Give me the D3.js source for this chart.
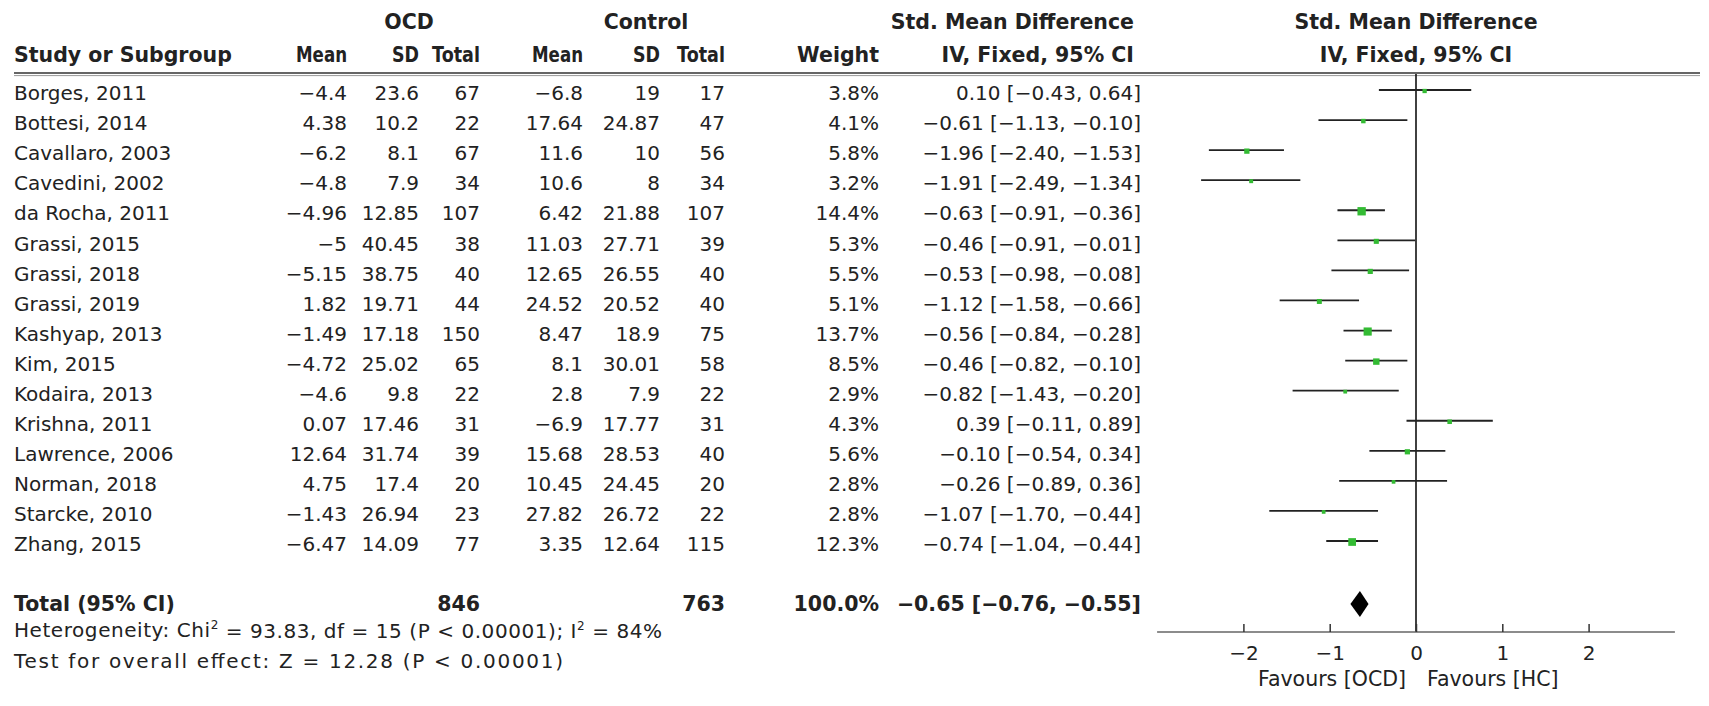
<!DOCTYPE html>
<html><head><meta charset="utf-8">
<script src="https://cdn.jsdelivr.net/npm/d3@7"></script>
<style>
body{margin:0;background:#fff}
svg{display:block}
text{font-family:"DejaVu Sans",Verdana,sans-serif;fill:#222}
</style>
</head><body>
<svg id="c" width="1709" height="706"></svg>
<script>
const studies = ["Borges, 2011","Bottesi, 2014","Cavallaro, 2003","Cavedini, 2002","da Rocha, 2011","Grassi, 2015","Grassi, 2018","Grassi, 2019","Kashyap, 2013","Kim, 2015","Kodaira, 2013","Krishna, 2011","Lawrence, 2006","Norman, 2018","Starcke, 2010","Zhang, 2015"];
const ocdMean = [-4.4, 4.38, -6.2, -4.8, -4.96, -5, -5.15, 1.82, -1.49, -4.72, -4.6, 0.07, 12.64, 4.75, -1.43, -6.47];
const ocdSD = [23.6, 10.2, 8.1, 7.9, 12.85, 40.45, 38.75, 19.71, 17.18, 25.02, 9.8, 17.46, 31.74, 17.4, 26.94, 14.09];
const ocdTotal = [67, 22, 67, 34, 107, 38, 40, 44, 150, 65, 22, 31, 39, 20, 23, 77];
const ctrlMean = [-6.8, 17.64, 11.6, 10.6, 6.42, 11.03, 12.65, 24.52, 8.47, 8.1, 2.8, -6.9, 15.68, 10.45, 27.82, 3.35];
const ctrlSD = [19, 24.87, 10, 8, 21.88, 27.71, 26.55, 20.52, 18.9, 30.01, 7.9, 17.77, 28.53, 24.45, 26.72, 12.64];
const ctrlTotal = [17, 47, 56, 34, 107, 39, 40, 40, 75, 58, 22, 31, 40, 20, 22, 115];
const weight = [3.8, 4.1, 5.8, 3.2, 14.4, 5.3, 5.5, 5.1, 13.7, 8.5, 2.9, 4.3, 5.6, 2.8, 2.8, 12.3];
const smd = [0.10, -0.61, -1.96, -1.91, -0.63, -0.46, -0.53, -1.12, -0.56, -0.46, -0.82, 0.39, -0.10, -0.26, -1.07, -0.74];
const ciLow = [-0.43, -1.13, -2.40, -2.49, -0.91, -0.91, -0.98, -1.58, -0.84, -0.82, -1.43, -0.11, -0.54, -0.89, -1.70, -1.04];
const ciHigh = [0.64, -0.10, -1.53, -1.34, -0.36, -0.01, -0.08, -0.66, -0.28, -0.10, -0.20, 0.89, 0.34, 0.36, -0.44, -0.44];
const totalOcdN = 846, totalCtrlN = 763, totalWeight = 100.0;
const totalSmd = -0.65, totalLow = -0.76, totalHigh = -0.55;
const axisTicks = [-2, -1, 0, 1, 2];
const axisExtent = [-3, 3];
const heterogeneity = {chi2: "93.83", df: 15, p: "0.00001", i2: "84%"};
const overallTest = {z: "12.28", p: "0.00001"};

const svg = d3.select("#c");
const dash = s => String(s).replace(/[-\u2212]/g, "\u2212");
const f2 = v => dash(d3.format(".2f")(v));
const f1 = v => d3.format(".1f")(v) + "%";

// layout
const leftX = 14;
const colRight = {om: 347, osd: 419, on: 480, cm: 583, csd: 660, cn: 725, w: 879, ci: 1141};
const rowY = d3.scaleLinear().domain([0, studies.length - 1]).range([90, 541]);
const textOff = 3;
const totalY = 604, hetY = 630, testY = 661;
const axisY = 632, lineTop = 74;
const x = d3.scaleLinear().domain([-2, 2]).range([1416 - 2*86.3, 1416 + 2*86.3]);

// headers
const hdr = svg.append("g").attr("font-weight", "bold").attr("font-size", 20.5);
hdr.append("text").attr("x", 409).attr("y", 22).attr("dy", "0.36em").attr("text-anchor", "middle").text("OCD");
hdr.append("text").attr("x", 646).attr("y", 22).attr("dy", "0.36em").attr("text-anchor", "middle").text("Control");
hdr.append("text").attr("x", 1134).attr("y", 22).attr("dy", "0.36em").attr("text-anchor", "end").text("Std. Mean Difference");
hdr.append("text").attr("x", x(0)).attr("y", 22).attr("dy", "0.36em").attr("text-anchor", "middle").text("Std. Mean Difference");
// [label, x, anchor, forced width or null]
const h2 = [["Study or Subgroup", leftX, "start", null], ["Mean", colRight.om, "end", 51], ["SD", colRight.osd, "end", 27], ["Total", colRight.on, "end", 48],
  ["Mean", colRight.cm, "end", 51], ["SD", colRight.csd, "end", 27], ["Total", colRight.cn, "end", 48], ["Weight", colRight.w, "end", null],
  ["IV, Fixed, 95% CI", 1134, "end", null], ["IV, Fixed, 95% CI", x(0), "middle", null]];
hdr.selectAll("text.h2").data(h2).join("text").attr("class", "h2")
  .attr("x", d => d[1]).attr("y", 55).attr("dy", "0.36em").attr("text-anchor", d => d[2])
  .each(function(d){ if (d[3]) d3.select(this).attr("textLength", d[3]).attr("lengthAdjust", "spacingAndGlyphs"); })
  .text(d => d[0]);

// header double rule
svg.append("line").attr("x1", 14).attr("x2", 1700).attr("y1", lineTop - 1).attr("y2", lineTop - 1).attr("stroke", "#333").attr("stroke-width", 1.6);
svg.append("line").attr("x1", 14).attr("x2", 1700).attr("y1", lineTop + 1.6).attr("y2", lineTop + 1.6).attr("stroke", "#999").attr("stroke-width", 1);

// data rows
const rows = svg.append("g").attr("font-size", 20);
const idx = d3.range(studies.length);
const cols = [
  [i => studies[i], leftX, "start"],
  [i => dash(ocdMean[i]), colRight.om, "end"],
  [i => ocdSD[i], colRight.osd, "end"],
  [i => ocdTotal[i], colRight.on, "end"],
  [i => dash(ctrlMean[i]), colRight.cm, "end"],
  [i => ctrlSD[i], colRight.csd, "end"],
  [i => ctrlTotal[i], colRight.cn, "end"],
  [i => f1(weight[i]), colRight.w, "end"],
  [i => `${f2(smd[i])} [${f2(ciLow[i])}, ${f2(ciHigh[i])}]`, colRight.ci, "end"]
];
cols.forEach(c => {
  rows.selectAll(null).data(idx).join("text")
    .attr("x", c[1]).attr("y", i => rowY(i) + textOff).attr("dy", "0.36em")
    .attr("text-anchor", c[2]).text(c[0]);
});

// totals
const tot = svg.append("g").attr("font-size", 20.5).attr("font-weight", "bold");
[["Total (95% CI)", leftX, "start"], [totalOcdN, colRight.on, "end"], [totalCtrlN, colRight.cn, "end"],
 [f1(totalWeight), colRight.w, "end"], [`${f2(totalSmd)} [${f2(totalLow)}, ${f2(totalHigh)}]`, colRight.ci, "end"]]
 .forEach(d => tot.append("text").attr("x", d[1]).attr("y", totalY).attr("dy", "0.36em").attr("text-anchor", d[2]).text(d[0]));

const het = svg.append("text").attr("x", leftX).attr("y", hetY).attr("dy", "0.36em").attr("font-size", 20)
  .attr("textLength", 648).attr("lengthAdjust", "spacing");
het.append("tspan").text("Heterogeneity: Chi");
het.append("tspan").attr("font-size", 12).attr("dy", "-0.65em").text("2");
het.append("tspan").attr("dy", "0.42em").text(` = ${heterogeneity.chi2}, df = ${heterogeneity.df} (P < ${heterogeneity.p}); I`);
het.append("tspan").attr("font-size", 12).attr("dy", "-0.65em").text("2");
het.append("tspan").attr("dy", "0.42em").text(` = ${heterogeneity.i2}`);
svg.append("text").attr("x", leftX).attr("y", testY).attr("dy", "0.36em").attr("font-size", 20)
  .attr("textLength", 549).attr("lengthAdjust", "spacing")
  .text(`Test for overall effect: Z = ${overallTest.z} (P < ${overallTest.p})`);

// forest plot
const fp = svg.append("g");
fp.append("line").attr("x1", x(0)).attr("x2", x(0)).attr("y1", lineTop).attr("y2", axisY).attr("stroke", "#111").attr("stroke-width", 1.6);
fp.selectAll("line.ci").data(idx).join("line").attr("class", "ci")
  .attr("x1", i => x(ciLow[i])).attr("x2", i => x(ciHigh[i]))
  .attr("y1", i => rowY(i)).attr("y2", i => rowY(i))
  .attr("stroke", "#222").attr("stroke-width", 1.8);
const side = w => 2.2 * Math.sqrt(w);
fp.selectAll("rect.sq").data(idx).join("rect").attr("class", "sq")
  .attr("x", i => x(smd[i]) - side(weight[i]) / 2).attr("y", i => rowY(i) - side(weight[i]) / 2 + 1)
  .attr("width", i => side(weight[i])).attr("height", i => side(weight[i]))
  .attr("fill", "#33bb33");
fp.append("path")
  .attr("d", `M${x(totalLow)},${totalY} L${x(totalSmd)},${totalY - 13} L${x(totalHigh)},${totalY} L${x(totalSmd)},${totalY + 13} Z`)
  .attr("fill", "#000");

// axis
fp.append("line").attr("x1", x(axisExtent[0])).attr("x2", x(axisExtent[1])).attr("y1", axisY).attr("y2", axisY)
  .attr("stroke", "#666").attr("stroke-width", 1.5);
const ax = fp.append("g").attr("transform", `translate(0,${axisY})`)
  .call(d3.axisBottom(x).tickValues(axisTicks).tickSizeInner(-8).tickSizeOuter(0).tickPadding(14).tickFormat(v => dash(v)));
ax.select(".domain").remove();
ax.selectAll(".tick line").attr("stroke", "#333").attr("stroke-width", 1.5);
ax.selectAll(".tick text").attr("font-size", 20).attr("font-family", '"DejaVu Sans",Verdana,sans-serif').attr("fill", "#333");
fp.append("text").attr("x", x(0) - 10).attr("y", 679).attr("dy", "0.36em").attr("font-size", 20.5).attr("text-anchor", "end").attr("fill", "#333").text("Favours [OCD]");
fp.append("text").attr("x", x(0) + 11).attr("y", 679).attr("dy", "0.36em").attr("font-size", 20.5).attr("text-anchor", "start").attr("fill", "#333").text("Favours [HC]");
</script>
</body></html>
